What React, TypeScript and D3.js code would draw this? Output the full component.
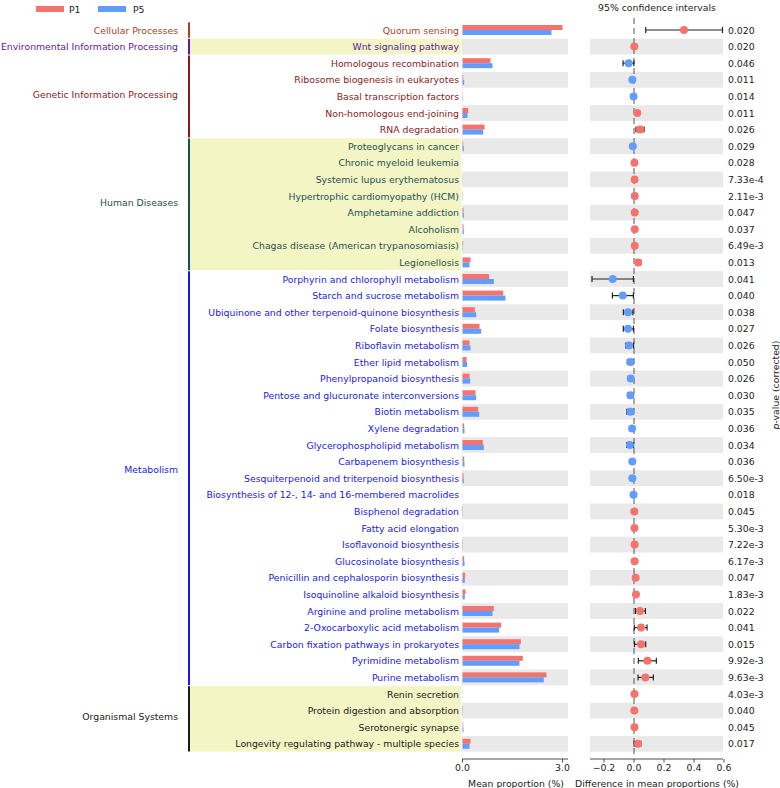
import * as React from 'react';
import * as d3 from 'd3';

const groups = [
  'Cellular Processes',
  'Environmental Information Processing',
  'Genetic Information Processing',
  'Human Diseases',
  'Metabolism',
  'Organismal Systems',
];

const pathways = [
  'Quorum sensing',
  'Wnt signaling pathway',
  'Homologous recombination',
  'Ribosome biogenesis in eukaryotes',
  'Basal transcription factors',
  'Non-homologous end-joining',
  'RNA degradation',
  'Proteoglycans in cancer',
  'Chronic myeloid leukemia',
  'Systemic lupus erythematosus',
  'Hypertrophic cardiomyopathy (HCM)',
  'Amphetamine addiction',
  'Alcoholism',
  'Chagas disease (American trypanosomiasis)',
  'Legionellosis',
  'Porphyrin and chlorophyll metabolism',
  'Starch and sucrose metabolism',
  'Ubiquinone and other terpenoid-quinone biosynthesis',
  'Folate biosynthesis',
  'Riboflavin metabolism',
  'Ether lipid metabolism',
  'Phenylpropanoid biosynthesis',
  'Pentose and glucuronate interconversions',
  'Biotin metabolism',
  'Xylene degradation',
  'Glycerophospholipid metabolism',
  'Carbapenem biosynthesis',
  'Sesquiterpenoid and triterpenoid biosynthesis',
  'Biosynthesis of 12-, 14- and 16-membered macrolides',
  'Bisphenol degradation',
  'Fatty acid elongation',
  'Isoflavonoid biosynthesis',
  'Glucosinolate biosynthesis',
  'Penicillin and cephalosporin biosynthesis',
  'Isoquinoline alkaloid biosynthesis',
  'Arginine and proline metabolism',
  '2-Oxocarboxylic acid metabolism',
  'Carbon fixation pathways in prokaryotes',
  'Pyrimidine metabolism',
  'Purine metabolism',
  'Renin secretion',
  'Protein digestion and absorption',
  'Serotonergic synapse',
  'Longevity regulating pathway - multiple species',
];

const pathwayGroup = [
  0, 1, 2, 2, 2, 2, 2, 3, 3, 3, 3, 3, 3, 3, 3,
  4, 4, 4, 4, 4, 4, 4, 4, 4, 4, 4, 4, 4, 4, 4, 4, 4, 4, 4, 4, 4, 4, 4, 4, 4,
  5, 5, 5, 5,
];

const meanP1 = [
  3.0, 0.003, 0.84, 0.02, 0.01, 0.17, 0.66,
  0.02, 0.006, 0.005, 0.01, 0.03, 0.03, 0.02, 0.24,
  0.8, 1.22, 0.37, 0.51, 0.21, 0.12, 0.21, 0.39, 0.47, 0.05, 0.61, 0.05, 0.03,
  0.004, 0.012, 0.006, 0.012, 0.05, 0.08, 0.09, 0.94, 1.16, 1.75, 1.81, 2.52,
  0.006, 0.012, 0.02, 0.24,
];

const meanP5 = [
  2.67, 0.001, 0.9, 0.05, 0.012, 0.15, 0.62,
  0.04, 0.004, 0.003, 0.008, 0.04, 0.04, 0.01, 0.21,
  0.94, 1.29, 0.41, 0.56, 0.24, 0.14, 0.23, 0.41, 0.5, 0.06, 0.64, 0.06, 0.04,
  0.006, 0.008, 0.004, 0.008, 0.06, 0.07, 0.07, 0.9, 1.1, 1.71, 1.71, 2.44,
  0.003, 0.01, 0.03, 0.21,
];

const diffMean = [
  0.333, 0.002, -0.036, -0.011, -0.003, 0.022, 0.04,
  -0.008, 0.003, 0.004, 0.005, 0.005, 0.005, 0.005, 0.027,
  -0.142, -0.075, -0.04, -0.04, -0.033, -0.024, -0.022, -0.024, -0.024, -0.013,
  -0.027, -0.011, -0.011, -0.003, 0.002, 0.003, 0.004, 0.004, 0.011, 0.013,
  0.04, 0.047, 0.047, 0.089, 0.076,
  0.003, 0.002, 0.003, 0.027,
];

const ciLow = [
  0.078, 0.001, -0.073, -0.016, -0.005, 0.014, 0.013,
  -0.012, 0.001, 0.002, 0.002, 0.001, 0.001, 0.002, 0.011,
  -0.28, -0.144, -0.071, -0.071, -0.055, -0.044, -0.036, -0.04, -0.048, -0.018,
  -0.049, -0.015, -0.015, -0.005, 0.001, 0.001, 0.002, 0.002, 0.005, 0.008,
  0.01, 0.002, 0.003, 0.029, 0.027,
  0.001, 0.0, 0.001, 0.001,
];

const ciHigh = [
  0.59, 0.003, -0.001, -0.006, -0.001, 0.03, 0.067,
  -0.003, 0.005, 0.006, 0.008, 0.009, 0.009, 0.008, 0.045,
  -0.004, -0.004, -0.007, -0.004, -0.003, -0.004, -0.008, -0.008, -0.004, -0.008,
  -0.003, -0.007, -0.007, -0.001, 0.004, 0.005, 0.006, 0.006, 0.017, 0.018,
  0.076, 0.087, 0.078, 0.149, 0.129,
  0.005, 0.004, 0.005, 0.045,
];

const pValues = [
  '0.020', '0.020', '0.046', '0.011', '0.014', '0.011', '0.026',
  '0.029', '0.028', '7.33e-4', '2.11e-3', '0.047', '0.037', '6.49e-3', '0.013',
  '0.041', '0.040', '0.038', '0.027', '0.026', '0.050', '0.026', '0.030', '0.035',
  '0.036', '0.034', '0.036', '6.50e-3', '0.018', '0.045', '5.30e-3', '7.22e-3',
  '6.17e-3', '0.047', '1.83e-3', '0.022', '0.041', '0.015', '9.92e-3', '9.63e-3',
  '4.03e-3', '0.040', '0.045', '0.017',
];

const barTicks = [0, 3];
const diffTicks = [-0.2, 0, 0.2, 0.4, 0.6];

const groupColors = ['#a8441c', '#5b1a9b', '#8b1a1a', '#1e5052', '#1a1ae6', '#1a1a1a'];
const c1 = '#f4736c';
const c5 = '#619cff';
const font = 'DejaVu Sans, sans-serif';
const fs = 9.3;

const App = () => {
  const width = 780, height = 788;
  const y = d3.scaleBand<number>()
    .domain(d3.range(pathways.length))
    .range([21.7, 752.1]);
  const bw = y.bandwidth();
  const xBar = d3.scaleLinear().domain([0, 3]).range([462.5, 562.5]);
  const xDiff = d3.scaleLinear().domain([-0.2, 0.6]).range([604, 724]);
  const diffLeft = xDiff(-0.293);
  const diffRight = 723;
  const axisY = 759;

  const groupRows = groups.map((_, g) => pathways.map((_, i) => i).filter(i => pathwayGroup[i] === g));

  return (
    <svg width={width} height={height} style={{ position: 'absolute', left: 0, top: 0 }} fontFamily={font}>
      <rect x={0} y={0} width={width} height={height} fill="#fff" />
      {/* legend */}
      <rect x={36} y={6} width={28} height={6} fill={c1} />
      <text x={69} y={9} fontSize={fs} dominantBaseline="central" fill="#222">P1</text>
      <rect x={98} y={6} width={28} height={6} fill={c5} />
      <text x={133} y={9} fontSize={fs} dominantBaseline="central" fill="#222">P5</text>
      <text x={657} y={7} fontSize={fs} textAnchor="middle" dominantBaseline="central" fill="#222">95% confidence intervals</text>

      {/* group backgrounds, lines and labels */}
      {groupRows.map((rows, g) => {
        const top = y(rows[0])!;
        const bottom = y(rows[rows.length - 1])! + bw;
        const mid = g === 4 ? (top + bottom) / 2 - 9 : (top + bottom) / 2 - 2;
        return (
          <g key={g}>
            {g % 2 === 1 && (
              <rect x={190} y={top + 0.5} width={271} height={bottom - top - 1} fill="#f3f5c4" />
            )}
            <line x1={189} x2={189} y1={top + 0.5} y2={bottom - 0.5} stroke={groupColors[g]} strokeWidth={2} />
            <text x={178} y={g === 0 || g === 1 ? (top + bottom) / 2 : mid} fontSize={fs} textAnchor="end" dominantBaseline="central" fill={groupColors[g]}>{groups[g]}</text>
          </g>
        );
      })}

      {/* rows */}
      {pathways.map((p, i) => {
        const top = y(i)!;
        const cy = top + bw / 2;
        return (
          <g key={p}>
            {i % 2 === 1 && (
              <g>
                <rect x={462} y={top + 0.4} width={106} height={bw - 0.8} fill="#e9e9e9" />
                <rect x={diffLeft} y={top + 0.4} width={diffRight - diffLeft} height={bw - 0.8} fill="#e9e9e9" />
              </g>
            )}
            <text x={459} y={cy} fontSize={fs} textAnchor="end" dominantBaseline="central" fill={groupColors[pathwayGroup[i]]}>{p}</text>
            <rect x={xBar(0)} y={cy - 5} width={xBar(meanP1[i]) - xBar(0)} height={5} fill={c1} />
            <rect x={xBar(0)} y={cy} width={xBar(meanP5[i]) - xBar(0)} height={5} fill={c5} />
            <text x={728} y={cy} fontSize={fs} dominantBaseline="central" fill="#222">{pValues[i]}</text>
          </g>
        );
      })}

      {/* zero line */}
      <line x1={xDiff(0)} x2={xDiff(0)} y1={18} y2={axisY - 2} stroke="#555" strokeWidth={1} strokeDasharray="6,4" />

      {/* CIs and points */}
      {pathways.map((p, i) => {
        const cy = y(i)! + bw / 2;
        const col = diffMean[i] >= 0 ? c1 : c5;
        const lo = xDiff(ciLow[i]);
        const hi = xDiff(ciHigh[i]);
        return (
          <g key={'ci' + p}>
            <line x1={lo} x2={hi} y1={cy} y2={cy} stroke="#222" strokeWidth={1.2} />
            <line x1={lo} x2={lo} y1={cy - 3} y2={cy + 3} stroke="#222" strokeWidth={1.2} />
            <line x1={hi} x2={hi} y1={cy - 3} y2={cy + 3} stroke="#222" strokeWidth={1.2} />
            <circle cx={xDiff(diffMean[i])} cy={cy} r={4} fill={col} />
          </g>
        );
      })}

      {/* bar axis */}
      <line x1={462} x2={568} y1={axisY} y2={axisY} stroke="#222" strokeWidth={0.8} />
      {barTicks.map(t => (
        <g key={'bt' + t}>
          <line x1={xBar(t)} x2={xBar(t)} y1={axisY} y2={axisY + 3.5} stroke="#222" strokeWidth={0.8} />
          <text x={xBar(t)} y={axisY + 8} fontSize={fs} textAnchor="middle" dominantBaseline="central" fill="#222">{t.toFixed(1)}</text>
        </g>
      ))}
      <text x={516} y={783} fontSize={fs} textAnchor="middle" dominantBaseline="central" fill="#222">Mean proportion (%)</text>

      {/* diff axis */}
      <line x1={diffLeft} x2={diffRight} y1={axisY} y2={axisY} stroke="#222" strokeWidth={0.8} />
      {diffTicks.map(t => (
        <g key={'dt' + t}>
          <line x1={xDiff(t)} x2={xDiff(t)} y1={axisY} y2={axisY + 3.5} stroke="#222" strokeWidth={0.8} />
          <text x={xDiff(t)} y={axisY + 8} fontSize={fs} textAnchor="middle" dominantBaseline="central" fill="#222">{t < 0 ? '\u2212' + Math.abs(t).toFixed(1) : t.toFixed(1)}</text>
        </g>
      ))}
      <text x={657} y={783} fontSize={fs} textAnchor="middle" dominantBaseline="central" fill="#222">Difference in mean proportions (%)</text>

      {/* p-value label */}
      <text transform={`translate(775,385) rotate(-90)`} fontSize={fs} textAnchor="middle" dominantBaseline="central" fill="#222">
        <tspan fontStyle="italic">p</tspan>-value (corrected)
      </text>
    </svg>
  );
};

export default App;
